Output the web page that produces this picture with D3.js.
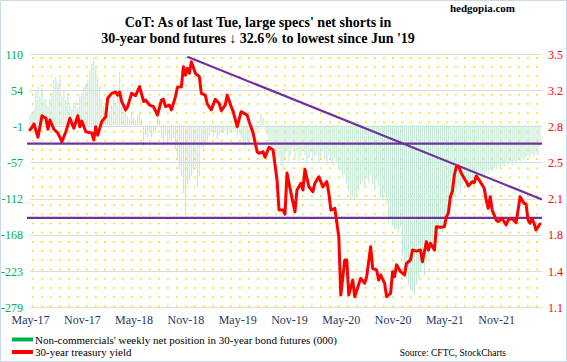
<!DOCTYPE html>
<html><head><meta charset="utf-8">
<script src="https://cdn.jsdelivr.net/npm/d3@7"></script>
<style>
body{margin:0;background:#fff}
svg{display:block}
text{font-family:"Liberation Serif","Times New Roman",serif}
</style>
</head><body><svg id="c" width="567" height="362"></svg>
<script>
// ---------- data ----------
const xLabels = ["May-17","Nov-17","May-18","Nov-18","May-19","Nov-19","May-20","Nov-20","May-21","Nov-21"];
const xLabelWeeks = [0,26,52,78,104,130,156,182,208,234];
const leftTickLabels = ["110","54","-1","-57","-112","-168","-223","-279"];
const rightTickLabels = ["3.5","3.2","2.8","2.5","2.1","1.8","1.4","1.1"];
const leftDomain = [-279, 110];
const rightDomain = [1.1, 3.5];

// Non-commercials' weekly net position (000), one value per week
const netPosition = [
 18,22,25,55,60,45,58,40,40,30,42,50,70,75,65,72,45,55,40,50,
 30,25,35,38,28,45,50,60,65,70,85,95,104,90,75,60,40,30,20,15,
 22,30,45,35,55,83,30,20,25,15,10,18,12,8,15,20,10,-32,-15,-20,
 -10,-18,-12,-8,12,8,-20,-28,-15,-30,-22,-25,-18,-37,-53,-68,-78,-104,-137,-89,
 -84,-78,-68,-63,-94,-78,-32,-35,-30,-28,-15,-10,-18,-12,-20,-15,-10,-12,-8,-14,
 -8,-12,-6,-10,-15,-12,-20,-30,-35,-25,-28,-22,-18,-12,-8,-5,18,12,-8,-15,
 -25,-35,-40,-55,-45,-50,-62,-68,-50,-40,-55,-45,-35,-50,-40,-55,-48,-35,-45,-60,
 -50,-42,-55,-48,-45,-58,-50,-40,-52,-60,-45,-55,-62,-50,-58,-65,-70,-80,-75,-90,
 -100,-113,-110,-115,-108,-100,-90,-85,-95,-80,-88,-75,-90,-100,-85,-95,-110,-113,-105,-120,
 -150,-145,-155,-160,-160,-165,-155,-200,-220,-235,-245,-250,-255,-260,-245,-235,-225,-215,-230,-210,
 -200,-190,-185,-175,-180,-170,-160,-165,-150,-140,-135,-130,-120,-110,-100,-95,-105,-90,-85,-90,
 -95,-90,-88,-92,-85,-80,-82,-75,-78,-72,-75,-68,-70,-65,-68,-62,-65,-60,-64,-58,
 -60,-58,-62,-55,-58,-52,-56,-50,-54,-48,-46,-50,-44,-47,-42,-45,-30
];

// 30-year treasury yield (%), week index and value
const yieldWeek = [0,1,2,4,6,8,9,10,12,14,16,18,20,22,24,25,26,28,31,32,33,34,36,38,39,41,43,44,45,46,
 48,49,51,53,55,57,58,60,62,64,66,67,68,70,71,73,74,76,77,78,79,80,81,83,85,86,88,89,91,93,
 95,96,98,99,101,102,104,106,109,110,112,114,115,117,118,120,122,124,125,127,128,129,131,133,134,136,137,138,140,142,
 143,145,147,149,150,151,153,155,156,158,159,160,162,163,166,168,169,171,172,174,175,176,178,179,181,182,183,184,186,188,
 189,191,192,194,196,197,199,200,201,203,204,206,208,209,210,211,212,213,214,215,217,218,219,220,222,223,224,226,228,229,
 230,231,232,234,235,237,239,240,242,244,245,246,248,249,250,251,252,253,254,256];
const yieldValue = [2.78,2.805,2.836,2.71,2.915,2.89,2.786,2.874,2.786,2.75,
 2.668,2.763,2.89,2.795,2.915,2.81,2.864,2.763,2.75,2.684,
 2.81,2.73,2.858,2.905,3.08,3.127,3.14,3.11,3.14,3.05,
 2.97,3.0,3.127,3.105,3.19,3.05,3.064,3.016,3.0,2.92,
 3.064,3.07,3.0,3.016,2.97,3.095,3.184,3.19,3.38,3.30,
 3.364,3.317,3.427,3.317,3.285,3.127,3.11,3.026,2.97,3.07,
 3.03,2.962,3.016,3.11,3.0,2.953,2.81,2.953,2.92,2.858,
 2.75,2.573,2.558,2.573,2.52,2.615,2.59,2.305,2.02,2.02,
 1.98,2.37,2.18,2.004,2.21,2.273,2.21,2.406,2.24,2.194,
 2.273,2.336,2.24,2.289,2.18,2.02,2.036,1.767,1.214,1.546,
 1.546,1.214,1.356,1.198,1.372,1.325,1.388,1.672,1.467,1.451,
 1.356,1.404,1.325,1.198,1.23,1.435,1.388,1.5,1.435,1.404,
 1.514,1.546,1.64,1.63,1.64,1.53,1.72,1.64,1.704,1.64,
 1.862,1.856,1.862,1.957,1.99,2.146,2.194,2.352,2.43,2.437,
 2.352,2.32,2.289,2.248,2.289,2.28,2.343,2.289,2.226,2.115,
 2.036,2.146,2.02,1.925,1.91,1.94,1.878,1.925,1.94,1.9,
 2.02,2.146,2.083,2.077,1.925,1.894,1.94,1.894,1.83,1.887];

// drawn reference lines (yield units)
const levelYields = [2.65, 1.945];
const levelWeeks = [-1.5, 257];
const trendWeeks = [79, 257];
const trendYields = [3.474, 2.12];

const titleLines = ["CoT: As of last Tue, large specs' net shorts in", "30-year bond futures \u2193 32.6% to lowest since Jun '19"];
const legendLabels = ["Non-commercials' weekly net position in 30-year bond futures (000)", "30-year treasury yield"];

// ---------- layout ----------
const W = 567, H = 362;
const plot = {left: 30, right: 540, top: 54, bottom: 307};
const svg = d3.select("#c");

const x = d3.scaleLinear().domain([0, netPosition.length - 1]).range([plot.left, plot.right]);
const yL = d3.scaleLinear().domain(leftDomain).range([plot.bottom, plot.top]);
const yR = d3.scaleLinear().domain(rightDomain).range([plot.bottom, plot.top]);

// border
svg.append("rect").attr("x", 0.5).attr("y", 0.5).attr("width", W - 1).attr("height", H - 1)
  .attr("fill", "#fff").attr("stroke", "#c9d9ee");

// dotted background
const defs = svg.append("defs");
const pat = defs.append("pattern").attr("id", "dots").attr("patternUnits", "userSpaceOnUse")
  .attr("width", 9).attr("height", 9.2).attr("x", plot.left + 2).attr("y", plot.top + 3);
pat.append("rect").attr("x", 0).attr("y", 0).attr("width", 1.8).attr("height", 1.8).attr("fill", "#eee62e");
svg.append("rect").attr("x", plot.left - 2).attr("y", plot.top).attr("width", plot.right - plot.left + 4)
  .attr("height", plot.bottom - plot.top).attr("fill", "url(#dots)");

// gridlines (from left ticks)
const nT = leftTickLabels.length;
const leftTickVals = d3.range(nT).map(k => leftDomain[1] - k * (leftDomain[1] - leftDomain[0]) / (nT - 1));
const rightTickVals = d3.range(nT).map(k => rightDomain[1] - k * (rightDomain[1] - rightDomain[0]) / (nT - 1));
svg.append("g").selectAll("line").data(leftTickVals).join("line")
  .attr("x1", plot.left).attr("x2", plot.right + 2)
  .attr("y1", d => Math.round(yL(d)) + 0.5).attr("y2", d => Math.round(yL(d)) + 0.5)
  .attr("stroke", "#dcdcdc").attr("stroke-width", 1.2);

// bars
svg.append("g").selectAll("line").data(netPosition).join("line")
  .attr("x1", (d, i) => x(i)).attr("x2", (d, i) => x(i))
  .attr("y1", yL(0)).attr("y2", d => yL(d))
  .attr("stroke", "#c3e9d4").attr("stroke-width", 1.1);

// purple level lines
svg.append("g").selectAll("line").data(levelYields).join("line")
  .attr("x1", x(levelWeeks[0])).attr("x2", x(levelWeeks[1]))
  .attr("y1", d => yR(d)).attr("y2", d => yR(d))
  .attr("stroke", "#7030a0").attr("stroke-width", 2.2);
// trend line
svg.append("line")
  .attr("x1", x(trendWeeks[0])).attr("y1", yR(trendYields[0]))
  .attr("x2", x(trendWeeks[1])).attr("y2", yR(trendYields[1]))
  .attr("stroke", "#7030a0").attr("stroke-width", 2.2);

// yield line
const pts = yieldWeek.map((w, i) => [w, yieldValue[i]]);
svg.append("path").datum(pts)
  .attr("d", d3.line().x(d => x(d[0])).y(d => yR(d[1])))
  .attr("fill", "none").attr("stroke", "#ff0000").attr("stroke-width", 3)
  .attr("stroke-linejoin", "round").attr("stroke-linecap", "round");

// left axis
const axL = d3.axisLeft(yL).tickValues(leftTickVals).tickSize(0).tickPadding(0)
  .tickFormat((d, i) => leftTickLabels[i]);
const gL = svg.append("g").attr("transform", "translate(23,0)").call(axL);
gL.select(".domain").remove();
gL.selectAll("text").attr("fill", "#00b050").style("font-size", "12px")
  .style("font-family", "'Liberation Serif', serif").attr("dy", "0.35em");

// right axis
const axR = d3.axisRight(yR).tickValues(rightTickVals).tickSize(0).tickPadding(0)
  .tickFormat((d, i) => rightTickLabels[i]);
const gR = svg.append("g").attr("transform", "translate(548,0)").call(axR);
gR.select(".domain").remove();
gR.selectAll("text").attr("fill", "#ff0000").style("font-size", "12px")
  .style("font-family", "'Liberation Serif', serif").attr("dy", "0.35em");

// x axis
const axX = d3.axisBottom(x).tickValues(xLabelWeeks).tickSize(0).tickPadding(0)
  .tickFormat((d, i) => xLabels[i]);
const gX = svg.append("g").attr("transform", "translate(0,315)").call(axX);
gX.select(".domain").remove();
gX.selectAll("text").attr("fill", "#1f3864").style("font-size", "12px")
  .style("font-family", "'Liberation Serif', serif");

// title
const t = svg.append("text").attr("text-anchor", "middle").attr("font-weight", "bold")
  .style("font-size", "14px").attr("fill", "#000");
titleLines.forEach((s, i) => t.append("tspan").attr("x", 258).attr("y", 27 + i * 15.5).text(s));

svg.append("text").attr("x", 515).attr("y", 12).attr("text-anchor", "end")
  .attr("font-weight", "bold").style("font-size", "11px").text("hedgopia.com");

// legend
const legColors = ["#00b050", "#ff0000"];
legendLabels.forEach((s, i) => {
  const yy = 339.5 + i * 12.5;
  svg.append("rect").attr("x", 12).attr("y", yy - 2).attr("width", 21).attr("height", 4).attr("fill", legColors[i]);
  svg.append("text").attr("x", 35).attr("y", yy + 4).style("font-size", "11px").attr("fill", "#000").text(s);
});
svg.append("text").attr("x", 506).attr("y", 356).attr("text-anchor", "end")
  .style("font-size", "9.5px").attr("fill", "#000").text("Source: CFTC, StockCharts");
</script></body></html>
